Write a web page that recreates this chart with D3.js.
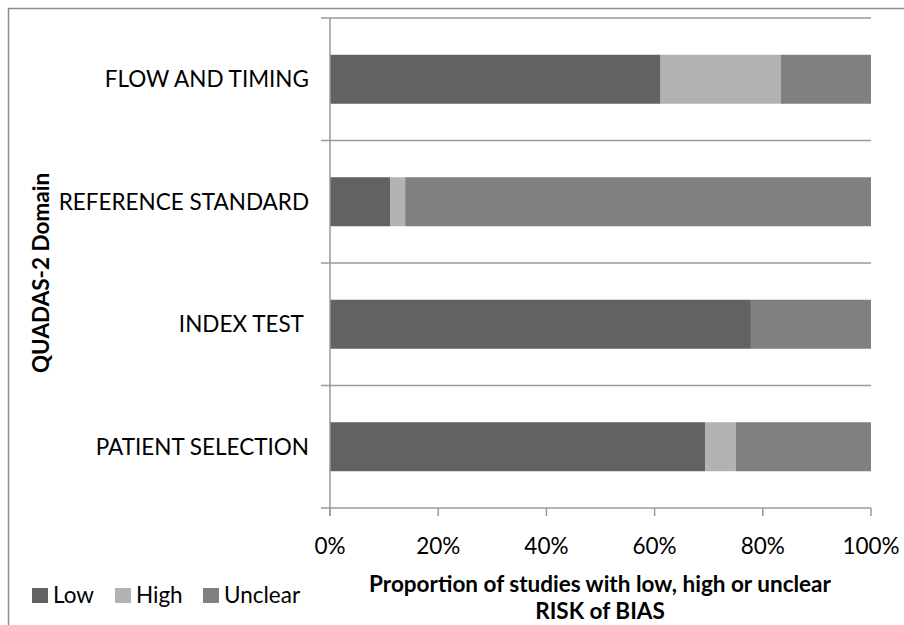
<!DOCTYPE html>
<html><head><meta charset="utf-8">
<script src="https://cdn.jsdelivr.net/npm/d3@7"></script>
<style>body{margin:0;background:#fff}svg{display:block}text{font-family:Lato,"Open Sans",sans-serif;fill:#000}</style>
</head><body>
<script>
const categories = ["FLOW AND TIMING", "REFERENCE STANDARD", "INDEX TEST ", "PATIENT SELECTION"];
const seriesNames = ["Low", "High", "Unclear"];
const low = [61.1, 11.1, 77.8, 69.4];
const high = [22.2, 2.8, 0, 5.6];
const unclear = [16.7, 86.1, 22.2, 25.0];
const xTicks = [0, 20, 40, 60, 80, 100];
const colors = ["#626262", "#b2b2b2", "#808080"];

(function(){
const W = 904, H = 625;
const FS = 22.5;
const svg = d3.select("body").append("svg").attr("width", W).attr("height", H);
svg.append("rect").attr("x", 8.5).attr("y", 8.5).attr("width", 900).attr("height", 640)
  .attr("fill", "none").attr("stroke", "#8c8c8c").attr("stroke-width", 1.5);

const pL = 330, pR = 871, pT = 18, pB = 508;
const x = d3.scaleLinear().domain([0, 100]).range([pL, pR]);
const y = d3.scaleBand().domain(categories).range([pT, pB]).paddingInner(0.6).paddingOuter(0.3);

const bands = d3.range(categories.length + 1).map(i => pT + i * (pB - pT) / categories.length);
svg.selectAll("line.grid").data(bands).join("line")
  .attr("x1", pL - 9).attr("x2", pR).attr("y1", d => d).attr("y2", d => d)
  .attr("stroke", "#9a9a9a").attr("stroke-width", 1.5);

const rows = categories.map((c, i) => ({c, vals: [low[i], high[i], unclear[i]]}));
const stacked = [];
rows.forEach(r => { let acc = 0; r.vals.forEach((v, k) => { stacked.push({c: r.c, x0: acc, x1: acc + v, k}); acc += v; }); });
svg.selectAll("rect.bar").data(stacked.filter(d => d.x1 > d.x0)).join("rect")
  .attr("x", d => x(d.x0)).attr("width", d => x(d.x1) - x(d.x0))
  .attr("y", d => y(d.c)).attr("height", y.bandwidth())
  .attr("fill", d => colors[d.k]);

svg.append("line").attr("x1", pL).attr("x2", pL).attr("y1", pT).attr("y2", pB + 8)
  .attr("stroke", "#9a9a9a").attr("stroke-width", 1.5);
svg.selectAll("line.xt").data(xTicks).join("line")
  .attr("x1", d => x(d)).attr("x2", d => x(d)).attr("y1", pB).attr("y2", pB + 8)
  .attr("stroke", "#9a9a9a").attr("stroke-width", 1.5);
svg.selectAll("text.xl").data(xTicks).join("text")
  .attr("x", d => x(d)).attr("y", 554).attr("text-anchor", "middle").attr("font-size", FS)
  .text(d => d + "%");

svg.selectAll("text.cat").data(categories).join("text")
  .attr("x", 309).attr("y", d => y(d) + y.bandwidth() / 2 + 8).attr("text-anchor", "end")
  .attr("font-size", FS).style("white-space", "pre").text(d => d);

svg.append("text").attr("transform", "translate(49,273) rotate(-90)").attr("text-anchor", "middle")
  .attr("font-size", FS).attr("font-weight", "bold").text("QUADAS-2 Domain");

svg.append("text").attr("x", 600).attr("y", 592).attr("text-anchor", "middle")
  .attr("font-size", FS).attr("font-weight", "bold").text("Proportion of studies with low, high or unclear");
svg.append("text").attr("x", 600).attr("y", 619).attr("text-anchor", "middle")
  .attr("font-size", FS).attr("font-weight", "bold").text("RISK of BIAS");

const legX = [32, 115, 203];
const lg = svg.selectAll("g.leg").data(seriesNames).join("g").attr("transform", (d, i) => `translate(${legX[i]},588)`);
lg.append("rect").attr("x", 0).attr("y", 0).attr("width", 16).attr("height", 15).attr("fill", (d, i) => colors[i]);
lg.append("text").attr("x", 21).attr("y", 15).attr("font-size", FS).text(d => d);
})();
</script>
</body></html>
